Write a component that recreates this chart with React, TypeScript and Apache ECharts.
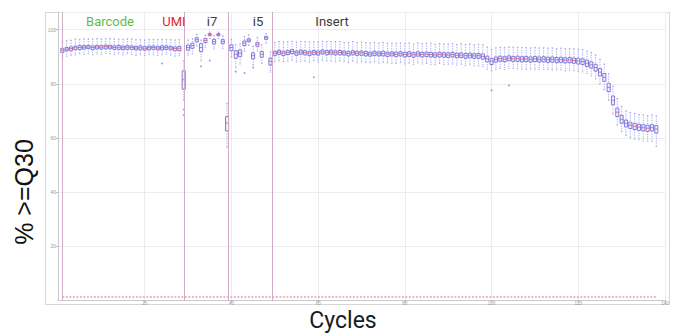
import React, { useEffect, useRef } from "react";
import * as echarts from "echarts";

// ---- data ----
const medians = [
  92.4, 92.8, 93.0, 93.3, 93.4, 93.5, 93.6, 93.4, 93.6, 93.5,
  93.7, 93.6, 93.4, 93.5, 93.3, 93.5, 93.4, 93.2, 93.3, 93.1,
  93.3, 93.4, 93.2, 93.3, 93.4, 93.2, 93.0, 93.1,
  81.5,
  93.4, 94.1, 96.3, 93.4, 96.0, 98.2, 95.6, 98.2, 95.6,
  65.5,
  93.4, 90.9, 91.3, 95.0, 96.1, 90.4, 94.6, 90.9, 97.0, 88.3,
  91.3, 91.7, 91.3, 91.6, 91.9, 91.4, 91.7, 91.5, 91.3, 91.6, 91.4,
  91.8, 91.6, 91.7, 91.5, 91.6, 91.4, 91.2, 91.5, 91.3, 91.4,
  91.2, 91.0, 91.3, 91.1, 91.2, 91.0, 91.1, 90.9, 91.1, 90.8,
  91.0, 90.7, 91.0, 90.8, 90.9, 90.8, 90.6, 90.8, 90.7, 90.6,
  90.8, 90.5, 90.6, 90.4, 90.5, 90.3, 90.4, 90.1, 89.2, 88.3,
  89.0, 89.3, 89.1, 89.4, 89.2, 89.3, 89.1, 89.2, 89.0, 89.2,
  89.0, 89.1, 88.9, 89.0, 88.8, 88.9, 88.7, 88.8, 88.6, 88.4,
  88.2, 87.6, 87.0, 86.0, 84.3, 82.4, 78.7, 73.9, 69.5, 66.9,
  65.4, 64.7, 64.3, 64.0, 63.8, 63.6, 63.8, 63.3,
];

const q1Gap = [
  0.9, 0.7, 0.8, 0.7, 0.8, 0.7, 0.6, 0.8, 0.7, 0.7,
  0.8, 0.7, 0.7, 0.8, 0.7, 0.8, 0.7, 0.7, 0.8, 0.7,
  0.8, 0.7, 0.7, 0.8, 0.7, 0.7, 0.8, 0.9,
  3.5,
  1.0, 1.0, 0.8, 1.5, 0.8, 0.4, 0.9, 0.4, 0.8,
  2.9,
  1.2, 1.5, 1.3, 0.9, 0.6, 1.2, 0.8, 1.1, 0.6, 1.4,
  0.9, 0.8, 0.9, 0.8, 0.8, 0.9, 0.8, 0.8, 0.9, 0.8, 0.8,
  0.8, 0.9, 0.8, 0.8, 0.9, 0.8, 0.9, 0.8, 0.8, 0.9,
  0.9, 0.8, 0.9, 0.8, 0.9, 0.9, 0.8, 0.9, 0.8, 0.9,
  0.9, 0.9, 0.8, 0.9, 0.9, 0.9, 0.8, 0.9, 0.9, 0.9,
  0.9, 0.9, 0.9, 1.0, 0.9, 0.9, 1.0, 1.0, 1.1, 1.2,
  1.0, 1.0, 1.0, 0.9, 1.0, 1.0, 1.0, 1.0, 1.0, 1.0,
  1.0, 1.0, 1.0, 1.0, 1.0, 1.0, 1.0, 1.0, 1.0, 1.1,
  1.1, 1.2, 1.2, 1.3, 1.4, 1.5, 1.6, 1.7, 1.6, 1.5,
  1.3, 1.2, 1.2, 1.2, 1.2, 1.2, 1.2, 1.5,
];

const q3Gap = [
  0.7, 0.6, 0.6, 0.6, 0.7, 0.6, 0.6, 0.6, 0.6, 0.6,
  0.6, 0.6, 0.6, 0.7, 0.6, 0.6, 0.6, 0.6, 0.7, 0.6,
  0.6, 0.6, 0.6, 0.7, 0.6, 0.6, 0.6, 0.7,
  3.3,
  0.9, 0.9, 0.7, 1.4, 0.7, 0.3, 0.8, 0.3, 0.7,
  2.4,
  1.0, 1.3, 1.2, 0.8, 0.5, 1.0, 0.7, 1.0, 0.5, 1.2,
  0.7, 0.7, 0.7, 0.7, 0.7, 0.7, 0.7, 0.7, 0.7, 0.7, 0.7,
  0.7, 0.7, 0.7, 0.7, 0.7, 0.7, 0.7, 0.7, 0.7, 0.7,
  0.7, 0.7, 0.7, 0.7, 0.8, 0.7, 0.7, 0.8, 0.7, 0.8,
  0.8, 0.8, 0.8, 0.8, 0.8, 0.8, 0.8, 0.8, 0.8, 0.8,
  0.8, 0.8, 0.8, 0.8, 0.8, 0.8, 0.8, 0.9, 1.0, 1.0,
  0.9, 0.9, 0.9, 0.9, 0.9, 0.9, 0.9, 0.9, 0.9, 0.9,
  0.9, 0.9, 0.9, 0.9, 0.9, 0.9, 0.9, 0.9, 0.9, 1.0,
  1.0, 1.1, 1.1, 1.2, 1.3, 1.4, 1.5, 1.6, 1.5, 1.4,
  1.2, 1.1, 1.1, 1.1, 1.1, 1.1, 1.1, 1.3,
];

const lowGap = [
  2.8, 2.6, 2.5, 2.6, 2.4, 2.6, 2.5, 2.7, 2.5, 2.6,
  2.5, 2.6, 2.7, 2.5, 2.6, 2.5, 2.6, 2.7, 2.5, 2.6,
  2.6, 2.5, 2.7, 2.6, 2.5, 2.6, 2.8, 2.7,
  7.5,
  2.8, 3.0, 2.4, 5.0, 2.6, 1.5, 2.7, 1.5, 2.6,
  8.9,
  3.5, 5.0, 4.0, 3.0, 2.0, 3.5, 2.5, 3.5, 2.0, 4.0,
  3.2, 3.3, 3.1, 3.4, 3.2, 3.3, 3.5, 3.2, 3.3, 3.1, 3.4,
  3.3, 3.2, 3.4, 3.5, 3.2, 3.3, 3.4, 3.2, 3.5, 3.3,
  3.4, 3.3, 3.2, 3.5, 3.4, 3.3, 3.6, 3.4, 3.3, 3.5,
  3.4, 3.6, 3.3, 3.5, 3.4, 3.6, 3.5, 3.3, 3.6, 3.4,
  3.5, 3.6, 3.4, 3.7, 3.5, 3.6, 3.8, 3.7, 3.8, 3.6,
  3.7, 3.6, 3.8, 3.7, 3.6, 3.8, 3.7, 3.9, 3.6, 3.8,
  3.7, 3.8, 3.6, 3.9, 3.7, 3.8, 3.9, 3.7, 3.8, 3.9,
  3.8, 3.9, 4.0, 4.2, 4.4, 4.6, 4.8, 5.0, 4.8, 4.6,
  4.5, 4.6, 4.8, 4.7, 4.9, 4.8, 5.0, 6.5,
];

const highGap = [
  3.3, 3.2, 3.1, 3.2, 3.0, 3.1, 3.0, 3.2, 3.1, 3.1,
  3.0, 3.1, 3.2, 3.0, 3.1, 3.1, 3.2, 3.1, 3.0, 3.1,
  3.1, 3.0, 3.2, 3.1, 3.0, 3.1, 3.2, 3.2,
  7.0,
  2.8, 2.6, 2.0, 2.8, 2.0, 0.9, 2.2, 0.9, 2.1,
  7.3,
  3.0, 3.5, 3.5, 2.5, 2.0, 3.5, 2.5, 3.5, 1.5, 3.5,
  4.0, 3.9, 4.1, 3.9, 3.8, 4.0, 3.9, 4.0, 4.1, 3.9, 4.0,
  3.9, 4.0, 3.9, 4.1, 4.0, 3.9, 4.0, 4.1, 3.9, 4.0,
  4.0, 4.1, 3.9, 4.0, 4.1, 4.0, 3.9, 4.1, 4.0, 4.1,
  4.1, 4.0, 4.1, 4.0, 4.1, 4.2, 4.0, 4.1, 4.0, 4.1,
  4.1, 4.0, 4.2, 4.1, 4.2, 4.1, 4.2, 4.3, 4.4, 4.4,
  4.3, 4.2, 4.3, 4.2, 4.3, 4.2, 4.3, 4.2, 4.3, 4.2,
  4.3, 4.2, 4.3, 4.3, 4.2, 4.3, 4.3, 4.2, 4.3, 4.4,
  4.4, 4.5, 4.6, 4.7, 4.8, 4.9, 5.0, 5.2, 5.0, 4.8,
  4.6, 4.7, 4.7, 4.6, 4.7, 4.6, 4.7, 4.9,
];

const outlierCycles = [24, 29, 29, 33, 35, 41, 43, 45, 59, 100, 104];
const outlierValues = [87.5, 70.5, 68.5, 86.5, 88.6, 84.5, 84.0, 86.0, 82.4, 77.6, 79.4];

const separators = [0.9, 29.2, 39.2, 49.3];
const baselineCycles = [1, 138];
const baselineValues = [1.3, 1.3];

const regionLabels = [
  { text: "Barcode", x: 110, color: "#5dbb4a" },
  { text: "UMI", x: 174, color: "#e0242c" },
  { text: "i7", x: 212, color: "#3a3a3a" },
  { text: "i5", x: 258, color: "#3a3a3a" },
  { text: "Insert", x: 332, color: "#3a3a3a" },
];

export default function App() {
  const ref = useRef<HTMLDivElement>(null);

  useEffect(() => {
    if (!ref.current) return;
    const chart = echarts.init(ref.current, null, { renderer: "svg" });

    const boxData = medians.map((m, i) => [
      i + 1,
      m - lowGap[i],
      m - q1Gap[i],
      m,
      m + q3Gap[i],
      m + highGap[i],
    ]);
    const outliers = outlierCycles.map((c, i) => [c, outlierValues[i]]);
    const baseline = baselineCycles.map((c, i) => [c, baselineValues[i]]);

    const whiskerColor = "#9494ea";
    const boxColor = "#7070e0";

    const option: any = {
      animation: false,
      backgroundColor: "#ffffff",
      grid: { left: 58, right: 9, top: 12, bottom: 32.5, containLabel: false },
      xAxis: {
        type: "value",
        min: 0,
        max: 140,
        interval: 20,
        axisLine: { show: true, lineStyle: { color: "#c8c8c8", width: 1 } },
        axisTick: { show: true, length: 2, lineStyle: { color: "#bbbbbb" } },
        axisLabel: { fontSize: 4.5, color: "#9a9a9a", margin: 0, showMinLabel: false },
        splitLine: { show: true, lineStyle: { color: "#ececec", width: 1 } },
      },
      yAxis: {
        type: "value",
        min: 0,
        max: 106.5,
        interval: 20,
        axisLine: { show: true, lineStyle: { color: "#c8c8c8", width: 1 } },
        axisTick: { show: true, length: 2, lineStyle: { color: "#bbbbbb" } },
        axisLabel: { fontSize: 5, color: "#9a9a9a", margin: 2, showMinLabel: false, showMaxLabel: false },
        splitLine: { show: true, lineStyle: { color: "#ececec", width: 1 } },
      },
      series: [
        {
          type: "line",
          name: "baseline",
          data: baseline,
          symbol: "none",
          lineStyle: { color: "#dda2b4", width: 1.3, type: [2, 1.5] },
          z: 2,
        },
        {
          type: "custom",
          name: "Q30",
          data: boxData,
          encode: { x: 0, y: [1, 2, 3, 4, 5] },
          clip: true,
          renderItem: (params: any, api: any) => {
            const c = api.value(0);
            const lo = api.coord([c, api.value(1)]);
            const q1 = api.coord([c, api.value(2)]);
            const md = api.coord([c, api.value(3)]);
            const q3 = api.coord([c, api.value(4)]);
            const hi = api.coord([c, api.value(5)]);
            const w = api.size([1, 0])[0] * 0.72;
            const cx = md[0];
            const dashStyle = { stroke: whiskerColor, lineWidth: 0.8, lineDash: [1.2, 1.2] };
            const capStyle = { stroke: whiskerColor, lineWidth: 0.7 };
            return {
              type: "group",
              children: [
                { type: "line", shape: { x1: cx, y1: hi[1], x2: cx, y2: q3[1] }, style: dashStyle },
                { type: "line", shape: { x1: cx, y1: q1[1], x2: cx, y2: lo[1] }, style: dashStyle },
                { type: "line", shape: { x1: cx - w / 4, y1: hi[1], x2: cx + w / 4, y2: hi[1] }, style: capStyle },
                { type: "line", shape: { x1: cx - w / 4, y1: lo[1], x2: cx + w / 4, y2: lo[1] }, style: capStyle },
                {
                  type: "rect",
                  shape: { x: cx - w / 2, y: q3[1], width: w, height: Math.max(q1[1] - q3[1], 0.8) },
                  style: { fill: "rgba(238,238,255,0.9)", stroke: boxColor, lineWidth: 0.9 },
                },
                {
                  type: "line",
                  shape: { x1: cx - w / 2, y1: md[1], x2: cx + w / 2, y2: md[1] },
                  style: { stroke: "#e2506e", lineWidth: 0.8 },
                },
              ],
            };
          },
          markLine: {
            silent: true,
            symbol: "none",
            label: { show: false },
            animation: false,
            lineStyle: { color: "#d2abc8", width: 1, type: "solid" },
            data: separators.map((s) => ({ xAxis: s })),
          },
          z: 3,
        },
        {
          type: "scatter",
          name: "outliers",
          data: outliers,
          symbolSize: 1.8,
          itemStyle: { color: "#7a7ae0" },
          z: 4,
        },
      ],
      graphic: [
        {
          type: "rect",
          silent: true,
          shape: { x: 45.5, y: 12.5, width: 624, height: 292 },
          style: { fill: "none", stroke: "#d6d6d6", lineWidth: 1 },
          z: 0,
        },
        ...regionLabels.map((r) => ({
          type: "text",
          x: r.x,
          y: 21,
          style: {
            text: r.text,
            fill: r.color,
            fontSize: 13,
            fontFamily: "Roboto",
            textAlign: "center",
            textVerticalAlign: "middle",
          },
          z: 10,
        })),
        {
          type: "text",
          x: 24,
          y: 192,
          rotation: Math.PI / 2,
          style: {
            text: "% >=Q30",
            fill: "#111111",
            fontSize: 25,
            fontFamily: "Liberation Sans",
            textAlign: "center",
            textVerticalAlign: "middle",
          },
        },
        {
          type: "text",
          x: 343,
          y: 320,
          style: {
            text: "Cycles",
            fill: "#1a1a1a",
            fontSize: 23,
            fontFamily: "Roboto",
            textAlign: "center",
            textVerticalAlign: "middle",
          },
        },
      ],
    };

    chart.setOption(option);
    return () => chart.dispose();
  }, []);

  return <div ref={ref} style={{ width: 674, height: 333, position: "absolute", left: 0, top: 0 }} />;
}
